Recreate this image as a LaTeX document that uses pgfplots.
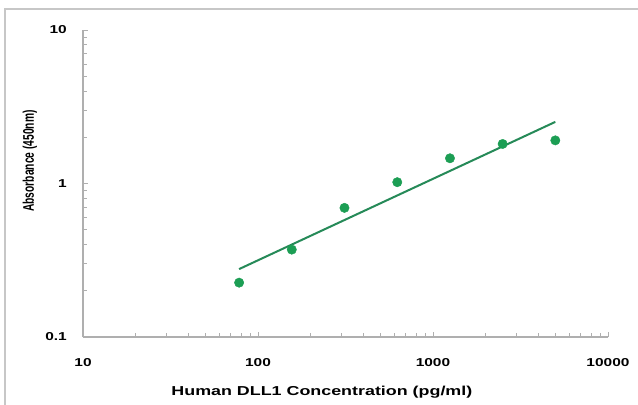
\documentclass[border=0pt]{standalone}
\usepackage{pgfplots}
\pgfplotsset{compat=1.18}
\usepackage{graphicx}
\usepackage{fontspec}
\setmainfont{Liberation Sans}
\definecolor{dotgreen}{RGB}{28,158,84}
\definecolor{linegreen}{RGB}{38,138,88}
\definecolor{axgray}{RGB}{175,175,175}
\newcommand\sx[1]{\scalebox{1.35}[1]{#1}}
\begin{document}
\begin{tikzpicture}
\useasboundingbox (0,0) rectangle (638bp,405bp);
\fill[white] (0,0) rectangle (638bp,405bp);
\draw[line width=2bp, color=black!22] (5bp,-5bp) -- (5bp,396bp) -- (645bp,396bp);
\begin{axis}[
  at={(83bp,68bp)}, anchor=south west,
  scale only axis, width=525bp, height=307bp,
  xmode=log, ymode=log,
  xmin=10, xmax=10000, ymin=0.1, ymax=10,
  axis x line*=bottom, axis y line*=left,
  axis line style={color=axgray, line width=1.2bp},
  every tick/.style={color=axgray, line width=0.8bp},
  tick align=inside,
  major tick length=5bp, minor tick length=4bp,
  xtick={10,100,1000,10000},
  xticklabels={\sx{10},\sx{100},\sx{1000},\sx{10000}},
  minor xtick={20,30,40,50,60,70,80,90,200,300,400,500,600,700,800,900,2000,3000,4000,5000,6000,7000,8000,9000},
  ytick={0.1,1,10},
  yticklabels={\sx{0.1},\sx{1},\sx{10}},
  minor ytick={0.2,0.3,0.4,0.5,0.6,0.7,0.8,0.9,2,3,4,5,6,7,8,9},
  tick label style={font=\fontsize{11.5}{13}\selectfont\bfseries, inner sep=0pt},
  xticklabel style={anchor=center},
  xticklabel shift=26bp,
  yticklabel style={anchor=east},
  yticklabel shift=16bp,
  xlabel={\scalebox{1.38}[1]{Human DLL1 Concentration (pg/ml)}},
  xlabel style={font=\fontsize{13}{15}\selectfont\bfseries, at={(axis description cs:0.455,-0.179)}, anchor=center, inner sep=0pt},
  ylabel={\scalebox{1}[1.5]{Absorbance (450nm)}},
  ylabel style={font=\fontsize{10.3}{12}\selectfont\bfseries, at={(axis description cs:-0.101,0.573)}, anchor=center, rotate=0, inner sep=0pt},
  clip=false,
]
\addplot[no marks, color=linegreen, line width=2bp] coordinates {(78,0.277) (5000,2.52)};
\addplot[only marks, mark=*, mark size=4.7bp, mark options={fill=dotgreen, draw=dotgreen}] coordinates {
(78,0.226) (156,0.371) (312,0.694) (625,1.02) (1250,1.46) (2500,1.81) (5000,1.91)};
\end{axis}
\end{tikzpicture}
\end{document}
